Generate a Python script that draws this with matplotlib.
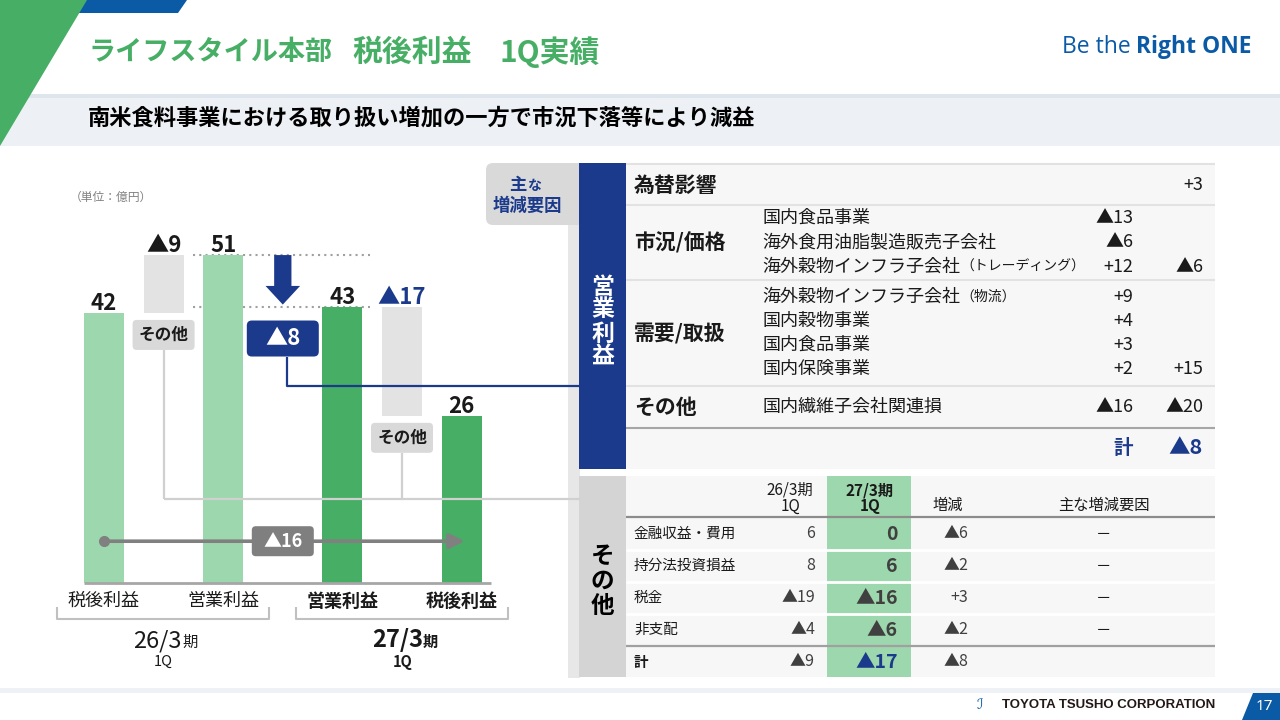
import matplotlib
matplotlib.use("Agg")
import matplotlib.pyplot as plt
from matplotlib.patches import FancyBboxPatch, Rectangle, Polygon

plt.rcParams['font.family'] = ['Noto Sans CJK JP', 'DejaVu Sans']

# ---------------- data ----------------
title_parts = ["ライフスタイル本部", "税後利益", "1Q実績"]
subtitle = "南米食料事業における取り扱い増加の一方で市況下落等により減益"
unit_label = "（単位：億円）"

bar_names = ["税後利益", "営業利益", "営業利益", "税後利益"]
period_main = ["26/3", "27/3"]
period_sub = "1Q"
other_label = "その他"

net_prev = 42      # 26/3期 1Q 税後利益
op_prev = 51       # 26/3期 1Q 営業利益
op_curr = 43       # 27/3期 1Q 営業利益
net_curr = 26      # 27/3期 1Q 税後利益
other_prev = -9    # 26/3期 その他
op_change = -8     # 営業利益 増減
other_curr = -17   # 27/3期 その他
net_change = -16   # 税後利益 増減

# table 1 (営業利益 主な増減要因)
fx_label = "為替影響"
fx_value = 3
market_label = "市況/価格"
market_items = ["国内食品事業", "海外食用油脂製造販売子会社", "海外穀物インフラ子会社"]
market_suffix = ["", "", "（トレーディング）"]
market_values = [-13, -6, 12]
market_total = -6
demand_label = "需要/取扱"
demand_items = ["海外穀物インフラ子会社", "国内穀物事業", "国内食品事業", "国内保険事業"]
demand_suffix = ["（物流）", "", "", ""]
demand_values = [9, 4, 3, 2]
demand_total = 15
others_label = "その他"
others_items = ["国内繊維子会社関連損"]
others_values = [-16]
others_total = -20
op_total = -8

# table 2 (その他)
t2_headers = ["26/3期\n1Q", "27/3期\n1Q", "増減", "主な増減要因"]
t2_rows = ["金融収益・費用", "持分法投資損益", "税金", "非支配", "計"]
t2_prev = [6, 8, -19, -4, -9]
t2_curr = [0, 6, -16, -6, -17]
t2_diff = [-6, -2, 3, -2, -8]
t2_factor = ["－", "－", "－", "－", ""]


def fmt(v, plus=False):
    if v < 0:
        return "▲%d" % (-v)
    if plus and v > 0:
        return "+%d" % v
    return "%d" % v


# ---------------- colours ----------------
GREEN = "#47ae65"
LIGHT = "#9dd7ad"
FLOAT = "#e3e3e3"
NAVY = "#1b3a8b"
LOGO = "#0b5aa6"
GRAY_BOX = "#d9d9d9"
TXT = "#1a1a1a"
DARK = "#404040"

W, H = 1280, 720
fig = plt.figure(figsize=(12.8, 7.2), dpi=100, facecolor="white")

# ---------------- chart axes ----------------
step = 59.6
x_first = 104
base_y = 583
ppu = 6.43
top_y = 160
left = x_first - 0.5 * step
ax = fig.add_axes([left / W, (H - base_y) / H, 7 * step / W, (base_y - top_y) / H], zorder=1)
ax.set_xlim(-0.5, 6.5)
ax.set_ylim(0, (base_y - top_y) / ppu)
ax.axis("off")

bw = 0.67
ax.bar([0, 2], [net_prev, op_prev], width=bw, color=LIGHT, zorder=2)
ax.bar([4, 6], [op_curr, net_curr], width=bw, color=GREEN, zorder=2)
ax.bar(1, -other_prev, bottom=op_prev + other_prev, width=bw, color=FLOAT, zorder=2)
ax.bar(5, -other_curr, bottom=op_curr + other_curr, width=bw, color=FLOAT, zorder=2)
ax.plot([-0.34, 6.5], [0, 0], color="#a6a6a6", lw=2, clip_on=False, zorder=3,
        solid_capstyle="butt")

for x, v, s, c in [(0, net_prev, fmt(net_prev), TXT), (1, op_prev, fmt(other_prev), TXT),
                   (2, op_prev, fmt(op_prev), TXT), (4, op_curr, fmt(op_curr), TXT),
                   (5, op_curr, fmt(other_curr), NAVY), (6, net_curr, fmt(net_curr), TXT)]:
    ax.annotate(s, (x, v), xytext=(0, -1.5), textcoords="offset points", ha="center",
                va="bottom", fontsize=16, fontweight="bold", color=c, zorder=5)

# dotted guide lines
for lvl in (op_prev, op_curr):
    ax.plot([1.5, 4.46], [lvl, lvl], ls=(0, (1, 2)), color="#a0a0a0", lw=1.5, zorder=1)

# down arrow (operating profit change)
tip = op_curr + 0.3
hb = tip + 2.9
ax.add_patch(Polygon([(3 - 0.145, op_prev), (3 + 0.145, op_prev), (3 + 0.145, hb),
                      (3 + 0.29, hb), (3, tip), (3 - 0.29, hb), (3 - 0.145, hb)],
                     closed=True, color=NAVY, zorder=4, lw=0))

# net profit change arrow
arr_y = 6.5
ax.annotate("", xy=(6.05, arr_y), xytext=(0, arr_y),
            arrowprops=dict(arrowstyle="-|>,head_length=0.9,head_width=0.45",
                            color="#808080", lw=2.6, shrinkA=0, shrinkB=0), zorder=4)
ax.plot(0, arr_y, "o", ms=7, color="#808080", zorder=4)

# ---------------- overlay axes (pixel coordinates) ----------------
ov = fig.add_axes([0, 0, 1, 1], zorder=5)
ov.set_xlim(0, W)
ov.set_ylim(H, 0)
ov.axis("off")
ov.patch.set_visible(False)


def P(x, v):
    d = ax.transData.transform((x, v))
    return d[0], H - d[1]


def rect(x0, y0, x1, y1, color, z=1):
    ov.add_patch(Rectangle((x0, y0), x1 - x0, y1 - y0, color=color, lw=0, zorder=z))


def rrect(x0, y0, x1, y1, color, r=5, z=2):
    ov.add_patch(FancyBboxPatch((x0, y0), x1 - x0, y1 - y0,
                                boxstyle="round,pad=0,rounding_size=%g" % r,
                                fc=color, ec="none", zorder=z))


def T(x, y, s, size=12, color=TXT, weight="normal", ha="left", va="center", z=6, **kw):
    return ov.text(x, y, s, fontsize=size, color=color, fontweight=weight, ha=ha, va=va,
                   zorder=z, **kw)


def line(pts, color, lw=1.5, z=3, **kw):
    xs, ys = zip(*pts)
    ov.plot(xs, ys, color=color, lw=lw, zorder=z, solid_capstyle="butt", **kw)


# header decorations
rect(0, 94, W, 146, "#edf1f5", z=0)
rect(0, 94, W, 98, "#dfe5ec", z=0)
ov.add_patch(Polygon([(86, 0), (187, 0), (178, 13), (78, 13)], color=LOGO, lw=0, zorder=1))
ov.add_patch(Polygon([(0, 0), (87, 0), (0, 146)], color=GREEN, lw=0, zorder=2))

for s, x, fs in zip(title_parts, [88, 352, 499], [19.5, 21.5, 21.5]):
    T(x, 52, s, size=fs, color=GREEN, weight="bold")
T(88, 118, subtitle, size=16, color="black", weight="bold")

t_logo = T(1252, 47, "Right ONE", size=16.5, color=LOGO, weight="bold", ha="right",
           family=["Open Sans", "DejaVu Sans"])
ov.annotate("Be the ", xy=(0, 0.5), xycoords=t_logo, ha="right", va="center",
            fontsize=16.5, color=LOGO, family=["Open Sans", "DejaVu Sans"], zorder=6)

# footer
rect(0, 688, W, 693, "#eef2f6", z=0)
T(1215, 705, "TOYOTA TSUSHO CORPORATION", size=9.5, color="#231815", weight="bold",
  ha="right", family=["Liberation Sans", "DejaVu Sans"])
T(980, 705, "ℐ", size=10, color=LOGO, ha="center", style="italic",
  family=["DejaVu Sans"])
ov.add_patch(Polygon([(1253, 693), (1280, 693), (1280, 720), (1242, 720)], color=LOGO,
                     lw=0, zorder=2))
T(1264, 706, "17", size=11, color="white", ha="center", family=["Noto Sans", "DejaVu Sans"])

# unit
T(70, 197, unit_label, size=8.5, color="#808080")

# --- chart annotations ---
cx, cy = P(3, op_curr)
bx0, bx1, by0, by1 = cx - 36, cx + 36, cy + 14, cy + 50
rrect(bx0, by0, bx1, by1, NAVY, r=5, z=4)
T(cx, (by0 + by1) / 2, fmt(op_change), size=16, color="white", weight="bold", ha="center")

# blue connector to the operating profit table
conn_y = 386
line([(cx + 4, by1), (cx + 4, conn_y), (580, conn_y)], NAVY, lw=1.6, z=3)

# "その他" boxes and gray connectors
gray_conn_y = 499
for pos, bottom_val in [(1, op_prev + other_prev), (5, op_curr + other_curr)]:
    px_, py_ = P(pos, bottom_val)
    rrect(px_ - 31, py_ + 7, px_ + 31, py_ + 37, GRAY_BOX, r=4, z=4)
    T(px_, py_ + 22, other_label, size=12, color=TXT, weight="bold", ha="center")
    line([(px_, py_ + 37), (px_, gray_conn_y)], "#d0d0d0", lw=1.6, z=3)
p1x, _ = P(1, 0)
line([(p1x, gray_conn_y), (580, gray_conn_y)], "#d0d0d0", lw=1.6, z=3)

# ▲16 box
ax_, ay_ = P(3, arr_y)
rrect(ax_ - 31, ay_ - 15, ax_ + 31, ay_ + 15, "#7f7f7f", r=4, z=4)
T(ax_, ay_, fmt(net_change), size=13, color="white", weight="bold", ha="center")

# bar category labels
for pos, name, wt in zip([0, 2, 4, 6], bar_names, ["normal", "normal", "bold", "bold"]):
    px_, _ = P(pos, 0)
    T(px_, 601, name, size=13, color=TXT, weight=wt, ha="center")

# brackets
for xa, xb in [(57, 269), (296, 508)]:
    line([(xa, 607), (xa, 619), (xb, 619), (xb, 607)], "#c0c0c0", lw=1.5, z=3)

for s, xr, xc, wt in [(period_main[0], 182, 163, "normal"), (period_main[1], 423, 403, "bold")]:
    T(xr, 647, s, size=17, color=TXT, weight=wt, ha="right", va="baseline")
    T(xr, 647, "期", size=11, color=TXT, weight=wt, ha="left", va="baseline")
    T(xc, 662, period_sub, size=10.5, color=TXT, weight=wt, ha="center")

# ---------------- table 1 ----------------
rect(568, 200, 580, 678, "#e7e7e7", z=1)
rrect(486, 163, 585, 225, GRAY_BOX, r=7, z=1)
T(527, 185, "主", size=12.5, color=NAVY, weight="bold", ha="right")
T(527, 186, "な", size=10, color=NAVY, weight="bold", ha="left")
T(527, 206, "増減要因", size=12.5, color=NAVY, weight="bold", ha="center")

rect(579, 163, 626, 469, NAVY, z=2)
for ch, yy in zip("営業利益", [287, 310, 334, 357]):
    T(602.5, yy, ch, size=16.5, color="white", weight="bold", ha="center")

rect(626, 163, 1215, 469, "#f7f7f7", z=1)
for yy in (164, 205, 280, 386):
    line([(626, yy), (1215, yy)], "#e2e2e2", lw=1.5, z=2)
line([(626, 428), (1215, 428)], "#a6a6a6", lw=1.5, z=2)

X_HEAD, X_ITEM, X_VAL, X_TOT = 634, 762, 1133, 1203
T(X_HEAD, 185, fx_label, size=15, weight="bold")
T(X_TOT, 185, fmt(fx_value, True), size=13, ha="right")


def item_rows(label, label_y, items, suffixes, values, ys, total):
    T(X_HEAD, label_y, label, size=15, weight="bold")
    for it, sf, v, yy in zip(items, suffixes, values, ys):
        t = T(X_ITEM, yy, it, size=13)
        if sf:
            ov.annotate(sf, xy=(1, 0.5), xycoords=t, ha="left", va="center", fontsize=10,
                        color=TXT, zorder=6)
        T(X_VAL, yy, fmt(v, True), size=13, ha="right")
    T(X_TOT, ys[-1], fmt(total, True), size=13, ha="right")


item_rows(market_label, 243, market_items, market_suffix, market_values, [218, 242, 267],
          market_total)
item_rows(demand_label, 334, demand_items, demand_suffix, demand_values,
          [297, 321, 345, 369], demand_total)
item_rows(others_label, 407, others_items, [""], others_values, [407], others_total)
T(X_VAL, 448, "計", size=14, color=NAVY, weight="bold", ha="right")
T(X_TOT, 448, fmt(op_total), size=15.5, color=NAVY, weight="bold", ha="right")

# ---------------- table 2 ----------------
rect(579, 476, 626, 677, "#d4d4d4", z=2)
for ch, yy in zip(other_label, [556, 581, 606]):
    T(602.5, yy, ch, size=17, color="black", weight="bold", ha="center")
rect(626, 476, 1215, 677, "#f7f7f7", z=1)
rect(827, 476, 911, 677, LIGHT, z=1.5)

hx = [790, 870, 948, 1104]
for i, (h, x) in enumerate(zip(t2_headers, hx)):
    parts = h.split("\n")
    wt = "bold" if i == 1 else "normal"
    if len(parts) == 2:
        T(x, 490, parts[0], size=11, weight=wt, ha="center")
        T(x, 506, parts[1], size=11, weight=wt, ha="center")
    else:
        T(x, 505, parts[0], size=11, weight=wt, ha="center")
line([(626, 517), (1215, 517)], "#8c8c8c", lw=1.6, z=2)
for yy in (550, 582, 614):
    line([(626, yy), (1215, yy)], "white", lw=2, z=2)
line([(626, 646), (1215, 646)], "#a0a0a0", lw=1.6, z=2)

row_y = [534, 566, 598, 630, 662]
for i, (lab, pv, cv, dv, fc, yy) in enumerate(zip(t2_rows, t2_prev, t2_curr, t2_diff,
                                                  t2_factor, row_y)):
    last = i == len(t2_rows) - 1
    T(634, yy, lab, size=10.5, weight="bold" if last else "normal")
    T(815, yy, fmt(pv), size=11.5, color=DARK, ha="right")
    T(898, yy, fmt(cv), size=14, color=NAVY if last else DARK, weight="bold", ha="right")
    T(968, yy, fmt(dv, True), size=11.5, color=DARK, ha="right")
    if fc:
        T(1104, yy, fc, size=11, color=TXT, ha="center")

fig.savefig("out.png", dpi=100, facecolor="white")
